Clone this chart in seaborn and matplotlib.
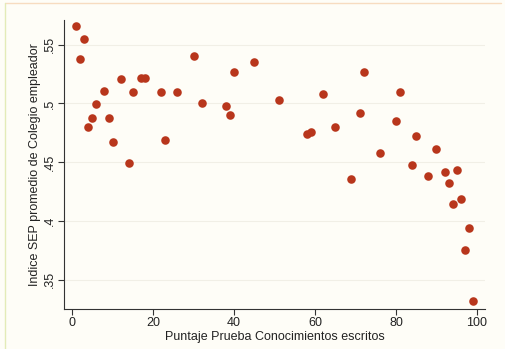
import matplotlib
matplotlib.use("Agg")
import matplotlib.pyplot as plt
import seaborn as sns
import pandas as pd

# Values
puntaje = [1, 2, 3, 4, 5, 6, 8, 9, 10, 12, 14, 15, 17, 18, 22, 23, 26, 30, 32,
           38, 39, 40, 45, 51, 58, 59, 62, 65, 69, 71, 72, 76, 80, 81, 84, 85,
           88, 90, 92, 93, 94, 95, 96, 97, 98, 99]
indice_sep = [0.566, 0.538, 0.555, 0.480, 0.488, 0.4995, 0.511, 0.488, 0.467,
              0.521, 0.449, 0.510, 0.522, 0.522, 0.510, 0.4685, 0.510, 0.540,
              0.500, 0.498, 0.490, 0.527, 0.535, 0.503, 0.474, 0.476, 0.508,
              0.480, 0.436, 0.492, 0.527, 0.458, 0.485, 0.510, 0.4475, 0.472,
              0.438, 0.461, 0.442, 0.4325, 0.4146, 0.443, 0.4186, 0.375,
              0.394, 0.332]
x_ticks = [0, 20, 40, 60, 80, 100]
y_ticks = [0.35, 0.40, 0.45, 0.50, 0.55]
y_tick_labels = [".35", ".4", ".45", ".5", ".55"]

df = pd.DataFrame({"puntaje": puntaje, "indice": indice_sep})

sns.set_theme(style="white")
plt.rcParams["font.family"] = ["Liberation Sans", "DejaVu Sans"]

fig = plt.figure(figsize=(5.06, 3.49), dpi=100)
fig.patch.set_facecolor("#fefdf7")

# light frame of the original graph
fig.add_artist(plt.Line2D([0.01, 0.99], [0.991, 0.991], color="#f7dcc0", lw=1,
                          transform=fig.transFigure))
fig.add_artist(plt.Line2D([0.0105, 0.0105], [0.0, 0.991], color="#e3ebb8", lw=1,
                          transform=fig.transFigure))

ax = fig.add_axes([0.1265, 0.1146, 0.832, 0.828])
ax.set_facecolor("#fefdf7")

sns.scatterplot(data=df, x="puntaje", y="indice", ax=ax, color="#b8361c",
                s=38, linewidth=0, zorder=3)

ax.set_xlim(-2, 102)
ax.set_ylim(0.325, 0.571)
ax.set_xticks(x_ticks)
ax.set_yticks(y_ticks)
ax.set_yticklabels(y_tick_labels, rotation=90, va="center")
ax.grid(axis="y", color="#f1efe6", lw=0.8)

for side in ["top", "right"]:
    ax.spines[side].set_visible(False)
for side in ["left", "bottom"]:
    ax.spines[side].set_color("#333333")
    ax.spines[side].set_linewidth(0.8)

ax.tick_params(axis="both", direction="out", length=4, width=0.8,
               color="#333333", labelsize=9, labelcolor="#222222", pad=2,
               left=True, bottom=True)
ax.set_xlabel("Puntaje Prueba Conocimientos escritos", fontsize=9,
              color="#222222", labelpad=1)
ax.set_ylabel("Indice SEP promedio de Colegio empleador", fontsize=9,
              color="#222222", labelpad=2)

fig.savefig("out.png", dpi=100, facecolor=fig.get_facecolor())
